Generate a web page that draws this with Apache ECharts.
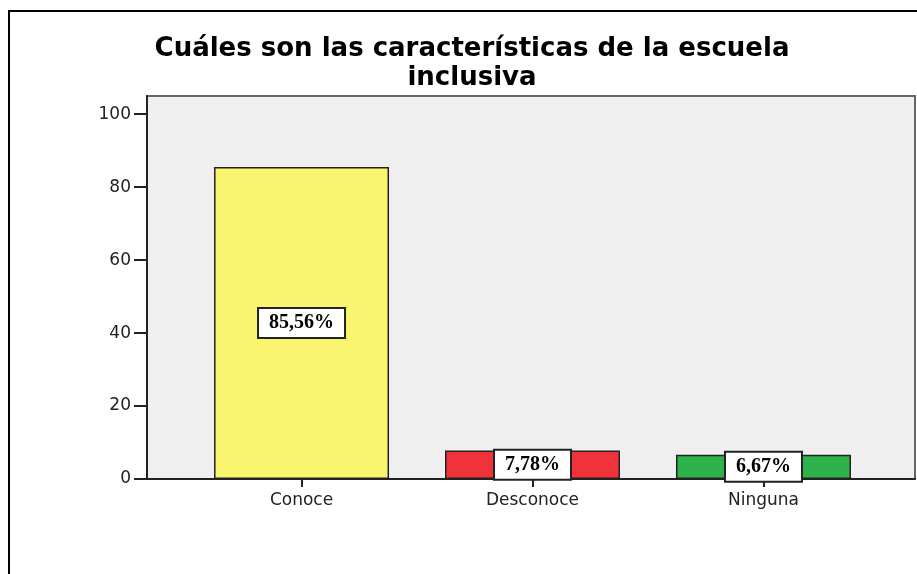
<!DOCTYPE html>
<html lang="es">

<head>
  <meta charset="UTF-8">
  <title>Cuáles son las características de la escuela inclusiva</title>
  <style>
    body { margin: 0; background: #fff; }
  </style>
</head>

<body>
  <div id="main" style="width: 917px;height: 574px;"></div>
</body>
<script src="https://cdn.jsdelivr.net/npm/echarts@6/dist/echarts.min.js"></script>
<script>
  var categories = ['Conoce', 'Desconoce', 'Ninguna'];
  var percents = [85.56, 7.78, 6.67];
  var barColors = ['#F9F56F', '#F0333A', '#2EB24B'];
  var yTicks = [0, 20, 40, 60, 80, 100];

  var chartDom = document.getElementById('main');
  var myChart = echarts.init(chartDom);
  var option;

  // x is a value axis so the bars sit where they do in the original (0,1,2)
  var barData = percents.map(function (v, i) {
    return {
      value: [i, v],
      itemStyle: { color: barColors[i] }
    };
  });

  option = {
    animation: false,
    backgroundColor: '#fff',
    title: {
      text: 'Cuáles son las características de la escuela\ninclusiva',
      left: 467,
      top: 30,
      textAlign: 'center',
      textStyle: {
        fontFamily: 'DejaVu Sans',
        fontWeight: 'bold',
        fontSize: 26,
        lineHeight: 29,
        color: '#000'
      }
    },
    graphic: [
      {
        type: 'rect',
        shape: { x: 9, y: 11, width: 1000, height: 1000 },
        style: { fill: 'none', stroke: '#000', lineWidth: 2 },
        silent: true
      }
    ],
    grid: {
      left: 147,
      right: 2,
      top: 96,
      bottom: 95,
      show: true,
      backgroundColor: '#EFEFEF',
      borderColor: '#666',
      borderWidth: 2
    },
    xAxis: {
      type: 'value',
      min: -0.669,
      max: 2.656,
      splitLine: { show: false },
      axisLine: { show: true, onZero: false, lineStyle: { color: '#222', width: 2 } },
      axisTick: {
        show: true,
        customValues: [0, 1, 2],
        length: 8,
        lineStyle: { color: '#222', width: 2 }
      },
      axisLabel: {
        customValues: [0, 1, 2],
        formatter: function (v) { return categories[Math.round(v)]; },
        margin: 13,
        fontFamily: 'DejaVu Sans',
        fontSize: 17,
        color: '#222'
      }
    },
    yAxis: {
      type: 'value',
      min: 0,
      max: 105,
      splitLine: { show: false },
      axisLine: { show: true, onZero: false, lineStyle: { color: '#222', width: 2 } },
      axisTick: {
        show: true,
        customValues: yTicks,
        length: 13,
        lineStyle: { color: '#222', width: 2 }
      },
      axisLabel: {
        customValues: yTicks,
        margin: 16,
        fontFamily: 'DejaVu Sans',
        fontSize: 17,
        color: '#222'
      }
    },
    series: [
      {
        type: 'bar',
        barWidth: 175,
        data: barData,
        itemStyle: { borderColor: '#222', borderWidth: 1.5 },
        label: {
          show: true,
          position: 'inside',
          formatter: function (p) {
            return p.value[1].toFixed(2).replace('.', ',') + '%';
          },
          fontFamily: 'Liberation Serif',
          fontWeight: 'bold',
          fontSize: 20,
          color: '#000',
          backgroundColor: '#fff',
          borderColor: '#222',
          borderWidth: 2,
          padding: [5, 10, 3, 10]
        }
      }
    ]
  };

  option && myChart.setOption(option);
</script>

</html>
